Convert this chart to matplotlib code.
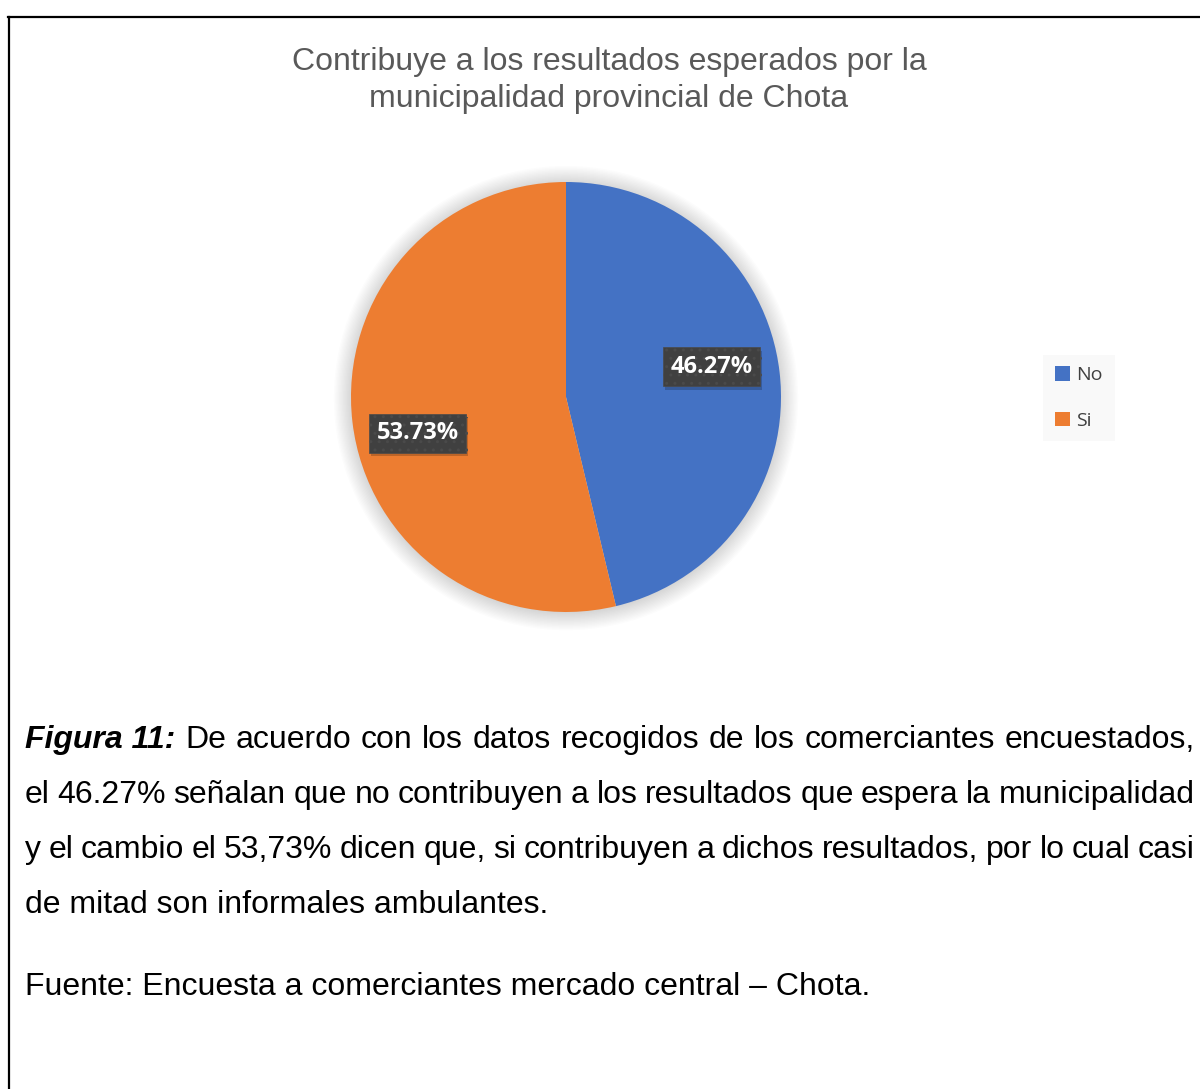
import numpy as np
import matplotlib
matplotlib.use('Agg')
import matplotlib.pyplot as plt
from matplotlib.lines import Line2D
from matplotlib.patches import Circle
import matplotlib.patheffects as pe

etiquetas = ['No', 'Si']
porcentajes = [46.27, 53.73]
colores = ['#4472C4', '#ED7D31']

titulo = ['Contribuye a los resultados esperados por la',
          'municipalidad provincial de Chota']

lineas = [
    ['De', 'acuerdo', 'con', 'los', 'datos', 'recogidos', 'de', 'los', 'comerciantes', 'encuestados,'],
    ['el', '46.27%', 'señalan', 'que', 'no', 'contribuyen', 'a', 'los', 'resultados', 'que', 'espera', 'la', 'municipalidad'],
    ['y', 'el', 'cambio', 'el', '53,73%', 'dicen', 'que,', 'si', 'contribuyen', 'a', 'dichos', 'resultados,', 'por', 'lo', 'cual', 'casi'],
    ['de mitad son informales ambulantes.'],
]
fuente = 'Fuente: Encuesta a comerciantes mercado central – Chota.'

W, H = 1200, 1089
fig = plt.figure(figsize=(W / 100, H / 100), dpi=100)
fig.patch.set_facecolor('white')

def fx(x):
    return x / W

def fy(y):
    return 1 - y / H

# marco del documento
fig.add_artist(Line2D([fx(8), fx(1200)], [fy(17), fy(17)], color='black', lw=1.6))
fig.add_artist(Line2D([fx(9), fx(9)], [fy(17), fy(1089)], color='black', lw=1.6))

# titulo
for i, t in enumerate(titulo):
    fig.text(fx(609), fy(62 + 37 * i), t, ha='center', va='center',
             fontsize=23, color='#595959', family='Liberation Sans')

# pie
cx, cy, r = 566, 397, 215
ax = fig.add_axes([fx(cx - r), fy(cy + r), 2 * r / W, 2 * r / H])
ax.set_xlim(-1, 1)
ax.set_ylim(-1, 1)
ax.axis('off')

# sombra suave
for k in np.linspace(0.0, 0.08, 14):
    ax.add_patch(Circle((0.0, -0.005), 1 + k, color='black', alpha=0.01,
                        lw=0, clip_on=False, zorder=0))

wedges, textos, autotextos = ax.pie(
    porcentajes, colors=colores, startangle=90, counterclock=False,
    autopct='%.2f%%', pctdistance=0.69, radius=1,
    wedgeprops=dict(linewidth=0, zorder=2),
    textprops=dict(color='white', fontsize=17, fontweight='bold', family='Open Sans'))
ax.set_aspect('equal')
ax.set_xlim(-1, 1)
ax.set_ylim(-1, 1)

ajuste = [5.0, 7.0]
dist = [0.69, 0.71]
for w, t, a, d in zip(wedges, autotextos, ajuste, dist):
    ang = np.deg2rad((w.theta1 + w.theta2) / 2 + a)
    t.set_position((d * np.cos(ang), d * np.sin(ang)))
    t.set_zorder(5)
    t.set_bbox(dict(boxstyle='square,pad=0.32', facecolor='#404040',
                    edgecolor='#4a4a4a', hatch='..', linewidth=0.5))
    t.get_bbox_patch().set_path_effects([
        pe.SimplePatchShadow(offset=(1.5, -2.5), shadow_rgbFace='black', alpha=0.2),
        pe.Normal()])

# leyenda
handles = [plt.Rectangle((0, 0), 1, 1, facecolor=c, edgecolor='none') for c in colores]
leg = fig.legend(handles, etiquetas, loc='center', bbox_to_anchor=(fx(1079), fy(398)),
                 frameon=True, fancybox=False, handlelength=0.75, handleheight=0.75,
                 handletextpad=0.35, labelspacing=1.4, borderpad=0.6,
                 prop=dict(family='Open Sans', size=14))
leg.get_frame().set_facecolor('#F8F8F8')
leg.get_frame().set_edgecolor('none')
for t in leg.get_texts():
    t.set_color('#404040')

# texto de la figura, justificado
fig.canvas.draw()
rend = fig.canvas.get_renderer()
izq, der = 25, 1195
fs = 23
base = [748, 803, 858, 913]

def ancho(s, **kw):
    t = fig.text(0, 0, s, fontsize=fs, family='Liberation Sans', **kw)
    w = t.get_window_extent(rend).width
    t.remove()
    return w

for i, palabras in enumerate(lineas):
    y = fy(base[i])
    piezas = []
    if i == 0:
        piezas.append(('Figura 11:', dict(fontweight='bold', fontstyle='italic')))
    piezas += [(p, {}) for p in palabras]
    if i == len(lineas) - 1:
        fig.text(fx(izq), y, palabras[0], fontsize=fs, family='Liberation Sans',
                 va='baseline', ha='left', color='black')
        continue
    anchos = [ancho(p, **kw) for p, kw in piezas]
    hueco = (der - izq - sum(anchos)) / (len(piezas) - 1)
    x = izq
    for (p, kw), w in zip(piezas, anchos):
        fig.text(fx(x), y, p, fontsize=fs, family='Liberation Sans',
                 va='baseline', ha='left', color='black', **kw)
        x += w + hueco

fig.text(fx(izq), fy(995), fuente, fontsize=fs, family='Liberation Sans',
         va='baseline', ha='left', color='black')

fig.savefig('out.png', dpi=100, facecolor='white')
